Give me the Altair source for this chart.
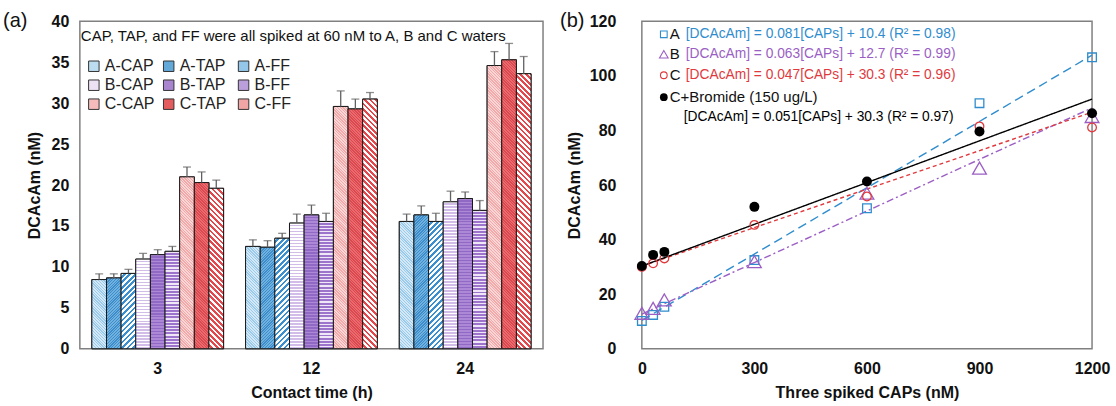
import altair as alt
import pandas as pd

FONT = "Liberation Sans"

# ---------------- panel (a) data ----------------
contact_times = ["3", "12", "24"]
series_names = ["A-CAP", "A-TAP", "A-FF", "B-CAP", "B-TAP", "B-FF", "C-CAP", "C-TAP", "C-FF"]
dcacam_3h = [8.45, 8.65, 9.2, 10.95, 11.5, 11.9, 21.0, 20.3, 19.6]
dcacam_12h = [12.5, 12.4, 13.5, 15.35, 16.35, 15.55, 29.6, 29.3, 30.5]
dcacam_24h = [15.55, 16.35, 15.55, 17.95, 18.35, 16.9, 34.6, 35.3, 33.6]
err_3h = [0.7, 0.5, 0.5, 0.7, 0.6, 0.6, 1.2, 1.3, 1.0]
err_12h = [0.8, 0.8, 0.6, 1.1, 1.2, 1.0, 1.9, 1.2, 0.8]
err_24h = [0.9, 1.1, 1.0, 1.3, 0.8, 1.2, 1.7, 2.0, 2.1]
series_colors = ["#bcdcf0", "#62a9da", "#93c6e8",
                 "#ede2f3", "#a985cf", "#bb9fda",
                 "#f6bcbc", "#e55c5f", "#f2a5a5"]
# hatch style per series: (direction, base colour, line colour, period px, line fraction)
hatch_styles = [
    ("\\", "#d3e9f7", "#9ccaea", 2.8, 0.45),
    ("/", "#6fb1df", "#3f8ccb", 2.8, 0.45),
    ("/", "#ffffff", "#3a8fd0", 5.5, 0.50),
    ("h", "#ffffff", "#d2bce8", 3.0, 0.50),
    ("h", "#ad88d6", "#9069c4", 3.0, 0.45),
    ("h", "#efe6f7", "#9d74cc", 3.2, 0.60),
    ("\\", "#fad6d6", "#f1a9a9", 2.8, 0.50),
    ("\\", "#ec6a6d", "#d84a4f", 2.8, 0.50),
    ("\\", "#ffffff", "#e4484c", 5.5, 0.50),
]
note_text = "CAP, TAP, and FF were all spiked at 60 nM to A, B and C waters"

# ---------------- panel (b) data ----------------
caps_nm = [0, 30, 60, 300, 600, 900, 1200]
a_vals = [10.2, 12.4, 15.4, 32.5, 51.5, 90.0, 106.8]
b_vals = [13.0, 14.8, 17.9, 31.9, 57.0, 66.2, 85.1]
c_vals = [30.0, 31.3, 33.1, 45.4, 55.8, 81.5, 81.1]
br_vals = [30.3, 34.4, 35.5, 52.0, 61.3, 79.6, 86.3]
fit_names = ["A", "B", "C", "C+Bromide"]
fit_slopes = [0.081, 0.063, 0.047, 0.051]
fit_intercepts = [10.4, 12.7, 30.3, 30.3]
fit_r2 = [0.98, 0.99, 0.96, 0.97]
fit_colors = ["#2f8dce", "#9b5fc4", "#e03a3e", "#000000"]
legend_names = ["A", "B", "C", "C+Bromide (150 ug/L)"]

# ---------------- panel (a) ----------------
PLOT_W, PLOT_H = 464, 328
PAD_IN, PAD_OUT = 0.143, 0.078
Y_MAX = 40
bar_w = PLOT_W / (3 - PAD_IN + 2 * PAD_OUT) * (1 - PAD_IN) / len(series_names)


def hatch(style, value):
    kind, c1, c2, period, frac = style
    w = bar_w
    h = max(value / Y_MAX * PLOT_H, w + 1)
    if kind == "h":
        g = {"x1": 0, "y1": 0, "x2": 0, "y2": 1}
        span, tmax = h, 1.0
    else:
        span = w + h
        tmax = (w + h) * w / (w * w + h * h)
        if kind == "/":
            g = {"x1": 0, "y1": 0, "x2": 1, "y2": h / w}
        else:
            g = {"x1": 0, "y1": 1, "x2": 1, "y2": 1 - h / w}
    stops = []
    s = 0.0
    while s < span:
        o1 = s / span * tmax
        o2 = min(s + period * (1 - frac), span) / span * tmax
        o3 = min(s + period, span) / span * tmax
        stops += [{"offset": round(o1, 5), "color": c1}, {"offset": round(o2, 5), "color": c1},
                  {"offset": round(o2, 5), "color": c2}, {"offset": round(o3, 5), "color": c2}]
        s += period
    g.update({"gradient": "linear", "stops": stops})
    return g


rows = []
for t, vals, errs in zip(contact_times, [dcacam_3h, dcacam_12h, dcacam_24h], [err_3h, err_12h, err_24h]):
    for s, v, e, st in zip(series_names, vals, errs, hatch_styles):
        rows.append({"time": t, "series": s, "value": v, "upper": v + e, "grad": hatch(st, v)})
bar_df = pd.DataFrame(rows)
bar_plain = bar_df.drop(columns=["grad"])

YT_A = "DCAcAm (nM)"
x_a = alt.X("time:N", sort=contact_times,
            scale=alt.Scale(paddingInner=PAD_IN, paddingOuter=PAD_OUT),
            axis=alt.Axis(title="Contact time (h)", labelAngle=0, ticks=False, domain=False,
                          labelPadding=12, titlePadding=8))
xoff_a = alt.XOffset("series:N", sort=series_names,
                     scale=alt.Scale(domain=series_names, paddingInner=0, paddingOuter=0))
y_scale_a = alt.Scale(domain=[0, Y_MAX], nice=False)
y_axis_a = alt.Axis(title=YT_A, values=list(range(0, 41, 5)), ticks=False, domain=False,
                    labelPadding=11, titlePadding=9, grid=False)

bars = alt.Chart(bar_plain).mark_bar(stroke="#1a1a1a", strokeWidth=1).encode(
    x=x_a, xOffset=xoff_a,
    y=alt.Y("value:Q", scale=y_scale_a, axis=y_axis_a),
    color=alt.Color("series:N", sort=series_names,
                    scale=alt.Scale(domain=series_names, range=series_colors),
                    legend=alt.Legend(title=None, orient="none", legendX=6, legendY=37,
                                      direction="horizontal",
                                      columns=3, symbolType="square", symbolSize=110,
                                      symbolStrokeColor="#333", symbolStrokeWidth=1,
                                      labelFontSize=16, labelFont=FONT, labelColor="#222",
                                      columnPadding=6, rowPadding=3, labelOffset=3,
                                      gridAlign="all", padding=0)),
)
hatched = alt.Chart(bar_df).mark_bar(stroke="#1a1a1a", strokeWidth=1).encode(
    x=x_a, xOffset=xoff_a,
    y=alt.Y("value:Q", scale=y_scale_a, title=YT_A),
    fill=alt.Fill("grad:N", scale=None),
)
err_rule = alt.Chart(bar_plain).mark_rule(color="#606060", strokeWidth=1.3).encode(
    x=x_a, xOffset=xoff_a,
    y=alt.Y("value:Q", scale=y_scale_a, title=YT_A), y2="upper:Q")
err_cap = alt.Chart(bar_plain).mark_tick(color="#606060", thickness=1.3, size=8, orient="horizontal").encode(
    x=x_a, xOffset=xoff_a,
    y=alt.Y("upper:Q", scale=y_scale_a, title=YT_A))

note = alt.Chart(pd.DataFrame({"t": [note_text]})).mark_text(
    align="left", baseline="middle", font=FONT, fontSize=15, color="#111").encode(
    text="t:N", x=alt.value(1), y=alt.value(15))
tag_a = alt.Chart(pd.DataFrame({"t": ["(a)"]})).mark_text(
    align="left", baseline="middle", font=FONT, fontSize=20, color="#111").encode(
    text="t:N", x=alt.value(-77), y=alt.value(0))

left = alt.layer(bars, hatched, err_rule, err_cap, note, tag_a).properties(width=PLOT_W, height=PLOT_H)

# ---------------- panel (b) ----------------
YT_B = "DCAcAm (nM)"
x_scale_b = alt.Scale(domain=[0, 1200], nice=False)
y_scale_b = alt.Scale(domain=[0, 120], nice=False)
x_axis_b = alt.Axis(title="Three spiked CAPs (nM)", values=[0, 300, 600, 900, 1200], format="d",
                    ticks=False, domain=False, labelPadding=12, titlePadding=8, grid=False,
                    labelFlush=False)
y_axis_b = alt.Axis(title=YT_B, values=list(range(0, 121, 20)), ticks=False, domain=False,
                    labelPadding=26, titlePadding=7, grid=False)

fit_df = pd.DataFrame({"name": fit_names, "slope": fit_slopes, "intercept": fit_intercepts})
dashes = [[9, 5], [7, 3, 2, 3], [4, 3], [1, 0]]
line_layers = []
for name, col, dash in zip(fit_names, fit_colors, dashes):
    line_layers.append(
        alt.Chart(fit_df).transform_filter(alt.datum.name == name).transform_calculate(
            x0="0", x1="1200",
            y0="datum.intercept", y1="datum.intercept + datum.slope * 1200").mark_rule(
            color=col, strokeWidth=1.4, strokeDash=dash).encode(
            x=alt.X("x0:Q", scale=x_scale_b, axis=x_axis_b),
            x2="x1:Q",
            y=alt.Y("y0:Q", scale=y_scale_b, axis=y_axis_b),
            y2="y1:Q"))

pts_df = pd.DataFrame({
    "x": caps_nm * 4,
    "y": a_vals + b_vals + c_vals + br_vals,
    "name": [n for n in fit_names for _ in caps_nm],
})
shapes = ["square", "triangle-up", "circle", "circle"]
sizes = [75, 190, 75, 100]
filled = [False, False, False, True]
pt_layers = []
for name, col, shp, sz, fl in zip(fit_names, fit_colors, shapes, sizes, filled):
    pt_layers.append(
        alt.Chart(pts_df).transform_filter(alt.datum.name == name).mark_point(
            shape=shp, size=sz, filled=fl, color=col, strokeWidth=1.3, opacity=1).encode(
            x=alt.X("x:Q", scale=x_scale_b, axis=x_axis_b),
            y=alt.Y("y:Q", scale=y_scale_b, axis=y_axis_b)))

# in-plot legend of panel (b)
leg_layers = []
row_y = [13, 33, 54, 76]
for i, (name, col, shp, sz, fl) in enumerate(zip(legend_names, fit_colors, shapes, [45, 75, 45, 60], filled)):
    one = pd.DataFrame({"t": [name]})
    leg_layers.append(alt.Chart(one).mark_point(shape=shp, size=sz, filled=fl, color=col,
                                                strokeWidth=1.1, opacity=1).encode(
        x=alt.value(22), y=alt.value(row_y[i])))
    leg_layers.append(alt.Chart(one).mark_text(align="left", baseline="middle", font=FONT,
                                               fontSize=15, color="#111").encode(
        text="t:N", x=alt.value(28), y=alt.value(row_y[i])))
eq_texts = ["[DCAcAm] = %.3f[CAPs] + %.1f (R\u00b2 = %.2f)" % (s, b, r)
            for s, b, r in zip(fit_slopes, fit_intercepts, fit_r2)]
eq_x = [44, 44, 44, 42]
eq_y = [13, 33, 54, 96]
for i, txt in enumerate(eq_texts):
    leg_layers.append(alt.Chart(pd.DataFrame({"t": [txt]})).mark_text(
        align="left", baseline="middle", font=FONT, fontSize=13.8, color=fit_colors[i]).encode(
        text="t:N", x=alt.value(eq_x[i]), y=alt.value(eq_y[i])))

tag_b = alt.Chart(pd.DataFrame({"t": ["(b)"]})).mark_text(
    align="left", baseline="middle", font=FONT, fontSize=20, color="#111").encode(
    text="t:N", x=alt.value(-82), y=alt.value(0))

right = alt.layer(*line_layers, *pt_layers, *leg_layers, tag_b).properties(width=451, height=328)

chart = alt.hconcat(left, right, spacing=15).properties(
    padding={"left": 2, "top": 10, "right": 5, "bottom": 5}
).configure_view(stroke="#808080", strokeWidth=1.5).configure_axis(
    labelFont=FONT, labelFontSize=16, labelFontWeight="bold", labelColor="#111",
    titleFont=FONT, titleFontSize=16, titleFontWeight="bold", titleColor="#111",
).configure_text(font=FONT)

chart.save("out.html", embed_options={"renderer": "svg", "actions": False})
